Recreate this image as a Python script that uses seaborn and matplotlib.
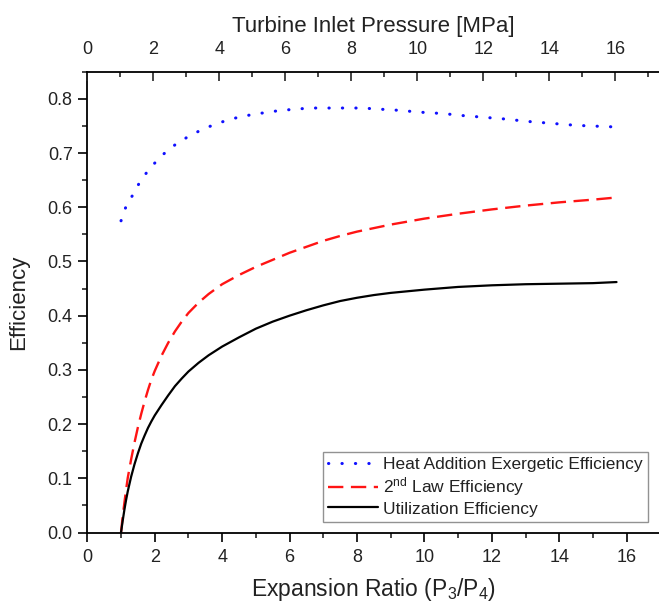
import numpy as np
import pandas as pd
import seaborn as sns
import matplotlib
matplotlib.use("Agg")
import matplotlib.pyplot as plt
from matplotlib.ticker import MultipleLocator

# ---- data ----
heat_x = [1.00, 1.14, 1.36, 1.58, 1.87, 2.24, 2.64, 3.04, 3.43, 3.83, 4.23, 4.62,
          5.02, 5.41, 5.81, 6.21, 6.60, 7.00, 7.40, 7.79, 8.19, 8.59, 8.98, 9.37,
          9.76, 10.16, 10.56, 10.95, 11.35, 11.75, 12.14, 12.54, 12.92, 13.32,
          13.72, 14.11, 14.51, 14.91, 15.30, 15.70]
heat_y = [0.575, 0.600, 0.624, 0.649, 0.673, 0.697, 0.717, 0.732, 0.744, 0.754,
          0.762, 0.768, 0.772, 0.776, 0.779, 0.781, 0.783, 0.783, 0.783, 0.783,
          0.783, 0.781, 0.780, 0.778, 0.776, 0.774, 0.773, 0.770, 0.768, 0.766,
          0.764, 0.762, 0.759, 0.757, 0.755, 0.753, 0.751, 0.750, 0.749, 0.748]

law2_x = [1.0, 1.05, 1.1, 1.15, 1.2, 1.3, 1.4, 1.5, 1.6, 1.7, 1.8, 1.9, 2.0,
          2.2, 2.4, 2.6, 2.8, 3.0, 3.3, 3.6, 4.0, 4.5, 5.0, 5.5, 6.0, 6.5, 7.0,
          7.5, 8.0, 9.0, 10.0, 11.0, 12.0, 13.0, 14.0, 15.0, 15.7]
law2_y = [0.000, 0.030, 0.055, 0.079, 0.101, 0.135, 0.166, 0.194, 0.219, 0.242,
          0.263, 0.282, 0.298, 0.326, 0.350, 0.371, 0.389, 0.405, 0.424, 0.440,
          0.458, 0.475, 0.490, 0.503, 0.516, 0.527, 0.538, 0.547, 0.555, 0.568,
          0.579, 0.588, 0.596, 0.603, 0.609, 0.614, 0.618]

util_x = [1.0, 1.05, 1.1, 1.15, 1.2, 1.3, 1.4, 1.5, 1.6, 1.7, 1.8, 1.9, 2.0,
          2.2, 2.4, 2.6, 2.8, 3.0, 3.3, 3.6, 4.0, 4.5, 5.0, 5.5, 6.0, 6.5, 7.0,
          7.5, 8.0, 8.5, 9.0, 10.0, 11.0, 12.0, 13.0, 14.0, 15.0, 15.7]
util_y = [0.000, 0.022, 0.042, 0.060, 0.076, 0.103, 0.126, 0.146, 0.164, 0.179,
          0.193, 0.205, 0.216, 0.235, 0.253, 0.270, 0.284, 0.297, 0.313, 0.327,
          0.343, 0.360, 0.376, 0.389, 0.400, 0.410, 0.419, 0.427, 0.433, 0.438,
          0.442, 0.448, 0.453, 0.456, 0.458, 0.459, 0.460, 0.462]

labels = ["Heat Addition Exergetic Efficiency",
          "2$^{\\mathrm{nd}}$ Law Efficiency",
          "Utilization Efficiency"]
x_ticks = [0, 2, 4, 6, 8, 10, 12, 14, 16]
top_ticks = [0, 2, 4, 6, 8, 10, 12, 14, 16]
y_ticks = [0.0, 0.1, 0.2, 0.3, 0.4, 0.5, 0.6, 0.7, 0.8]

# ---- style ----
sns.set_theme(style="white")
plt.rcParams["font.family"] = ["Liberation Sans", "DejaVu Sans"]
plt.rcParams["mathtext.fontset"] = "custom"
plt.rcParams["mathtext.rm"] = "Liberation Sans"
plt.rcParams["mathtext.it"] = "Liberation Sans:italic"
plt.rcParams["mathtext.bf"] = "Liberation Sans:bold"

fig = plt.figure(figsize=(6.59, 6.02), dpi=100)
ax = fig.add_axes([0.1325, 0.1154, 0.8675, 0.7655])

heat = pd.DataFrame({"x": heat_x, "y": heat_y})
law2 = pd.DataFrame({"x": law2_x, "y": law2_y})
util = pd.DataFrame({"x": util_x, "y": util_y})

sns.lineplot(data=heat, x="x", y="y", ax=ax, color="#1010ff", lw=2.2,
             linestyle=(0, (0.1, 4.3)), dash_capstyle="round", label=labels[0])
sns.lineplot(data=law2, x="x", y="y", ax=ax, color="#ff1414", lw=1.7,
             linestyle=(0, (6.5, 3.2)), label=labels[1])
sns.lineplot(data=util, x="x", y="y", ax=ax, color="black", lw=1.6,
             label=labels[2])

ax.set_xlim(0, 16.96)
ax.set_ylim(0, 0.85)
ax.set_xticks(x_ticks)
ax.set_yticks(y_ticks)
ax.set_yticklabels([f"{v:.1f}" for v in y_ticks])
ax.xaxis.set_minor_locator(MultipleLocator(1))
ax.yaxis.set_minor_locator(MultipleLocator(0.05))
ax.tick_params(which="major", direction="out", length=6.5, width=1.2,
               labelsize=13, color="black", labelcolor="#222222",
               bottom=True, left=True, pad=4)
ax.tick_params(axis="x", which="major", pad=5.5)
ax.tick_params(which="minor", direction="out", length=3.5, width=1.2,
               bottom=True, left=True)
for s in ["left", "bottom"]:
    ax.spines[s].set_color("black")
    ax.spines[s].set_linewidth(1.3)
ax.spines["right"].set_visible(False)
ax.spines["top"].set_visible(False)

ax.set_xlabel("Expansion Ratio (P$_3$/P$_4$)", fontsize=16.5, color="#222222",
              labelpad=7)
ax.set_ylabel("Efficiency", fontsize=16, color="#222222")
ax.yaxis.set_label_coords(-0.102, 0.5)

top = ax.twiny()
top.set_xlim(0, 17.32)
top.set_xticks(top_ticks)
top.xaxis.set_minor_locator(MultipleLocator(1))
top.tick_params(which="major", direction="in", length=6.5, width=1.2,
                labelsize=13, labelcolor="#222222", top=True, pad=10)
top.tick_params(which="minor", direction="in", length=3.5, width=1.2, top=True)
for s in ["left", "bottom", "right"]:
    top.spines[s].set_visible(False)
top.spines["top"].set_color("black")
top.spines["top"].set_linewidth(1.3)
top.set_xlabel("Turbine Inlet Pressure [MPa]", fontsize=16, color="#222222",
               labelpad=6)
top.grid(False)
ax.grid(False)

leg = ax.legend(loc="lower right", bbox_to_anchor=(0.98, 0.0234),
                borderaxespad=0, fontsize=12.5, frameon=True, fancybox=False,
                edgecolor="#777777", handlelength=2.9, handletextpad=0.25,
                labelspacing=0.18, borderpad=0.3)
leg.get_frame().set_linewidth(1.0)
for t in leg.get_texts():
    t.set_color("#222222")

fig.savefig("out.png", dpi=100)
